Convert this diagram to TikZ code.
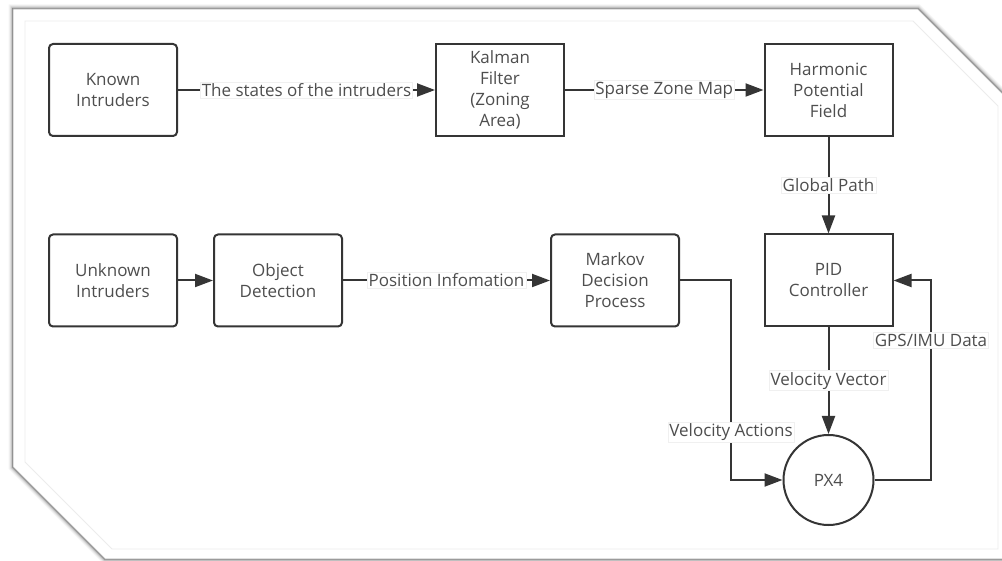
\documentclass[tikz,border=0pt]{standalone}
\usepackage{fontspec}
\setmainfont{Open Sans}
\usetikzlibrary{arrows.meta}
\definecolor{ink}{HTML}{353535}
\definecolor{txt}{HTML}{4E4E4E}
\definecolor{rim}{HTML}{A8A8A8}
\definecolor{innerrim}{HTML}{ECECEC}

\tikzset{
  basebox/.style={draw=ink, line width=2pt, text=txt, align=center,
    font=\fontsize{17}{21}\selectfont, inner sep=0pt,
    minimum width=128pt, minimum height=92pt},
  sqbox/.style={basebox},
  rndbox/.style={basebox, rounded corners=4pt},
  hub/.style={circle, draw=ink, line width=2pt, text=txt,
    font=\fontsize{17}{21}\selectfont, minimum size=90pt, inner sep=0pt},
  flow/.style={draw=ink, line width=2pt, -{Triangle[length=18pt,width=13pt]}},
  tag/.style={fill=white, draw=black!6, line width=0.6pt, text=txt,
    font=\fontsize{17}{20}\selectfont, inner sep=1.5pt, outer sep=0pt},
}

\begin{document}
\begin{tikzpicture}[x=1pt, y=-1pt]
\useasboundingbox (0,0) rectangle (1002,561);

% soft shadow round the frame
\foreach \w/\o in {9/0.04, 7/0.06, 5/0.09, 3/0.14, 1.6/0.25}{
  \draw[line width=\w pt, black, opacity=\o, line join=miter]
    (13,9) -- (918,9) -- (1010,101) -- (1010,559) -- (105,559) -- (13,467) -- cycle;
}
% frame
\fill[white] (13,9) -- (918,9) -- (1010,101) -- (1010,559) -- (105,559) -- (13,467) -- cycle;
\draw[rim, line width=0.9pt]
  (13,9) -- (918,9) -- (1010,101) -- (1010,559) -- (105,559) -- (13,467) -- cycle;
\draw[innerrim, line width=0.9pt]
  (25,21) -- (913,21) -- (998,106) -- (998,549) -- (112,549) -- (25,462) -- cycle;

% blocks
\node[rndbox] (known)   at (113,90)  {Known\\Intruders};
\node[sqbox]  (kalman)  at (500,90)  {Kalman\\Filter\\(Zoning\\Area)};
\node[sqbox]  (harm)    at (828.5,90) {Harmonic\\Potential\\Field};
\node[rndbox] (unknown) at (113,280.5) {Unknown\\Intruders};
\node[rndbox] (objdet)  at (278,280.5) {Object\\Detection};
\node[rndbox] (markov)  at (615,280.5) {Markov\\Decision\\Process};
\node[sqbox]  (pid)     at (828.5,280.5) {PID\\Controller};
\node[hub]    (px4)     at (828.5,480) {PX4};

% bends of the elbow connectors
\coordinate (ma) at (731,280.5);
\coordinate (mb) at (731,480);
\coordinate (ga) at (931,480);
\coordinate (gb) at (931,280.5);

% connectors
\draw[flow] (known) -- node[tag] {The states of the intruders} (kalman);
\draw[flow] (kalman) -- node[tag] {Sparse Zone Map} (harm);
\draw[flow] (harm) -- node[tag] {Global Path} (pid);
\draw[flow] (unknown) -- (objdet);
\draw[flow] (objdet) -- node[tag] {Position Infomation} (markov);
\draw[flow] (pid) -- node[tag] {Velocity Vector} (px4);
\draw[flow] (markov.east) -- (ma) -- node[tag, pos=0.76] {Velocity Actions} (mb) -- (px4.west);
\draw[flow] (px4.east) -- (ga) -- node[tag, pos=0.7] {GPS/IMU Data} (gb) -- (pid.east);
\end{tikzpicture}
\end{document}
